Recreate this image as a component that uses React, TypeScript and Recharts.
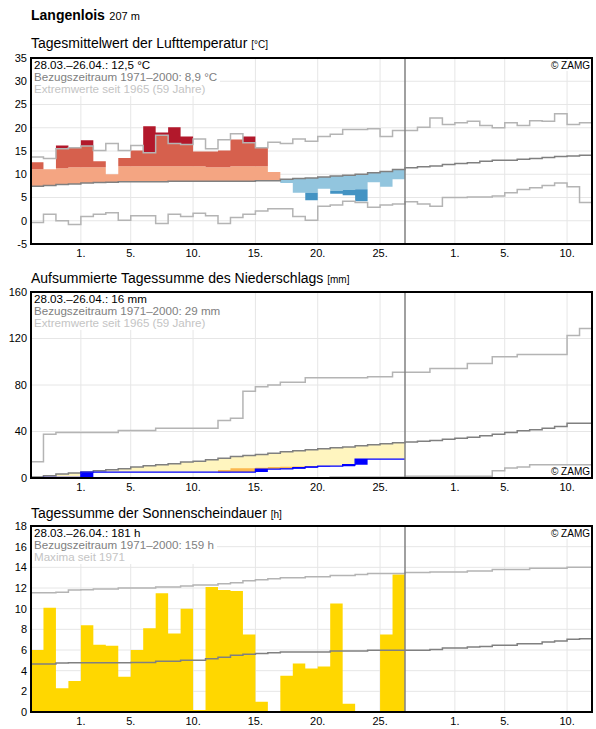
import React from 'react'
import { ComposedChart, Area, Line, XAxis, YAxis, CartesianGrid, ReferenceLine } from 'recharts'

const FONT = 'Arial, "Liberation Sans", Helvetica, sans-serif'

// x: day index, 0 = 28.03., 30 = 27.04., 45 = end of 11.05.
const tickDays = [4, 8, 13, 18, 23, 28, 34, 38, 43]
const tickLabels = ['1.', '5.', '10.', '15.', '20.', '25.', '1.', '5.', '10.']
const totalDays = 45
const obsEnd = 30

// Lufttemperatur [°C], 28.03.–26.04.
const tempValue = [12.6, 11.1, 16.2, 15.7, 17.3, 12.8, 10.0, 13.5, 15.1, 20.3, 19.0, 20.1, 18.1, 14.9, 14.9, 15.1, 17.5, 18.1, 15.7, 10.5, 8.1, 6.0, 4.4, 6.9, 5.8, 5.5, 4.2, 8.3, 7.3, 8.9]
const tempUpper = [11.1, 11.2, 11.3, 11.5, 11.5, 11.5, 11.6, 11.7, 11.7, 11.7, 11.7, 11.7, 11.7, 11.7, 11.5, 11.5, 11.7, 11.7, 11.7, 11.8, 12.0, 12.2, 12.4, 12.6, 12.8, 13.0, 13.2, 13.5, 13.8, 14.1]
const tempLower = [4.2, 4.4, 4.6, 4.7, 4.9, 5.0, 5.1, 5.2, 5.2, 5.2, 5.2, 5.3, 5.3, 5.3, 5.3, 5.3, 5.3, 5.3, 5.4, 5.4, 5.7, 5.9, 6.0, 6.2, 6.4, 6.6, 6.8, 7.1, 7.2, 7.6]
// climate, 28.03.–11.05.
const tempMean = [7.4, 7.6, 7.8, 7.9, 8.1, 8.2, 8.3, 8.4, 8.4, 8.4, 8.4, 8.5, 8.5, 8.5, 8.5, 8.5, 8.5, 8.5, 8.6, 8.6, 8.9, 9.1, 9.2, 9.4, 9.6, 9.8, 10.0, 10.3, 10.6, 11.0, 11.4, 11.6, 11.8, 12.1, 12.3, 12.5, 12.8, 13.0, 13.0, 13.2, 13.4, 13.6, 13.8, 13.9, 14.1]
const tempMax = [13.7, 13.4, 15.5, 15.7, 16.1, 15.1, 16.6, 15.1, 16.2, 14.6, 18.4, 16.6, 16.4, 17.6, 15.5, 17.4, 18.7, 16.8, 15.7, 16.9, 16.6, 17.6, 17.1, 18.1, 18.6, 19.6, 19.6, 19.8, 18.1, 19.4, 19.4, 20.1, 22.1, 20.7, 21.1, 21.4, 20.5, 20.0, 21.1, 20.5, 21.5, 21.4, 23.0, 20.7, 21.1]
const tempMin = [-0.4, 1.4, 0.0, -0.8, 0.9, 1.4, 1.7, 0.1, 1.1, 1.1, -0.6, 1.4, 0.9, 1.6, 1.1, -0.6, 0.7, 1.4, 2.1, 2.6, 2.6, 0.9, 0.1, 3.1, 3.4, 4.2, 3.9, 2.9, 3.4, 3.6, 4.1, 3.6, 3.1, 5.0, 5.0, 5.1, 5.1, 5.3, 6.0, 6.7, 7.1, 7.6, 8.1, 7.3, 3.9]
const tempTicks = [-5, 0, 5, 10, 15, 20, 25, 30, 35]

// Niederschlag, aufsummiert [mm]
const precipSum = [0, 0.6, 0.6, 0.6, 5.0, 5.0, 5.0, 5.0, 5.0, 5.0, 5.0, 5.0, 5.0, 5.0, 5.0, 5.1, 5.1, 5.1, 7.7, 7.7, 7.9, 8.8, 9.6, 10.2, 10.2, 11.4, 16.3, 16.3, 16.3, 16.3]
const precipDry = [0, 0.3, 0.5, 0.6, 1.0, 1.4, 1.8, 2.2, 2.6, 3.0, 3.4, 3.8, 4.2, 4.5, 4.9, 6.9, 8.3, 8.3, 8.9, 9.5, 9.7, 9.8, 10.3, 9.9, 10.1, 10.4, 10.7, 11.0, 11.3, 11.6]
const precipMean = [0.9, 2.0, 3.4, 4.3, 5.1, 6.3, 7.1, 8.0, 9.4, 10.6, 11.4, 12.3, 13.7, 14.5, 15.8, 17.0, 18.4, 19.4, 20.3, 21.3, 22.6, 23.4, 24.3, 25.1, 26.0, 26.6, 27.7, 28.6, 29.4, 30.3, 31.0, 31.6, 32.3, 33.4, 34.3, 35.1, 36.3, 37.7, 39.1, 40.6, 41.4, 42.9, 44.3, 47.1, 47.1]
const precipMax = [14.0, 37.7, 39.1, 39.1, 39.1, 39.1, 39.1, 40.9, 40.9, 40.9, 42.9, 42.9, 42.9, 42.9, 42.9, 49.4, 51.4, 74.6, 78.6, 80.0, 82.3, 82.3, 86.3, 86.3, 86.3, 86.3, 86.3, 87.1, 87.1, 90.9, 90.9, 90.9, 94.3, 94.3, 94.3, 98.6, 98.6, 104.3, 104.3, 106.3, 106.3, 106.3, 106.3, 122.6, 128.6]
const precipMin = [0, 0, 0, 0, 0, 0, 0, 0, 0, 0, 0, 0, 0, 0, 0, 0, 0, 0, 0, 0, 0, 0, 0, 0, 0.9, 0.9, 0.9, 0.9, 0.9, 0.9, 1.4, 1.4, 1.4, 1.4, 1.4, 1.4, 1.4, 6.3, 8.6, 9.4, 11.4, 11.4, 11.4, 11.4, 11.4]
const precipTicks = [0, 40, 80, 120, 160]

// Sonnenscheindauer [h]
const sunValue = [6.0, 10.1, 2.3, 3.0, 8.4, 6.5, 6.4, 3.4, 6.0, 8.1, 11.5, 7.6, 10.0, 0.2, 12.1, 11.8, 11.7, 7.5, 1.0, 0, 3.5, 4.7, 4.2, 4.4, 10.5, 0.8, 0, 0, 7.5, 13.3]
const sunMean = [4.65, 4.65, 4.74, 4.77, 4.77, 4.77, 4.77, 4.77, 4.8, 4.8, 4.9, 4.9, 5.0, 5.0, 5.16, 5.3, 5.5, 5.58, 5.65, 5.74, 5.8, 5.8, 5.8, 5.8, 5.9, 5.9, 5.9, 5.97, 5.97, 5.97, 5.97, 5.97, 6.06, 6.2, 6.2, 6.3, 6.35, 6.45, 6.45, 6.6, 6.6, 6.77, 6.87, 7.03, 7.1]
const sunMax = [11.55, 11.55, 11.6, 11.8, 11.84, 11.9, 11.9, 12.0, 12.0, 12.0, 12.1, 12.1, 12.2, 12.3, 12.3, 12.4, 12.5, 12.7, 12.8, 12.9, 13.0, 13.0, 13.1, 13.1, 13.2, 13.2, 13.3, 13.4, 13.4, 13.4, 13.5, 13.5, 13.55, 13.55, 13.55, 13.65, 13.65, 13.8, 13.8, 13.8, 13.9, 13.9, 13.9, 14.0, 14.0]
const sunTicks = [0, 2, 4, 6, 8, 10, 12, 14, 16, 18]

type Val = number | number[] | null
type Row = Record<string, Val>

// climate series run to the right edge, observed series stop after 26.04.
function buildRows(climate: Record<string, number[]>, observed: Record<string, Val[]>) {
  const rows: Row[] = []
  for (let d = 0; d <= totalDays; d++) {
    const row: Row = { day: d }
    Object.entries(climate).forEach(([k, arr]) => {
      row[k] = arr[Math.min(d, arr.length - 1)]
    })
    Object.entries(observed).forEach(([k, arr]) => {
      row[k] = d <= arr.length ? arr[Math.min(d, arr.length - 1)] : null
    })
    rows.push(row)
  }
  return rows
}

const tempData = buildRows(
  { mean: tempMean, max: tempMax, min: tempMin },
  {
    warm: tempValue.map((v, i) => (v > tempMean[i] ? [tempMean[i], Math.min(v, tempUpper[i])] : [tempMean[i], tempMean[i]])),
    warmer: tempValue.map((v, i) => (v > tempUpper[i] ? [tempUpper[i], Math.min(v, tempMax[i])] : [tempUpper[i], tempUpper[i]])),
    record: tempValue.map((v, i) => (v > tempMax[i] ? [tempMax[i], v] : [tempMax[i], tempMax[i]])),
    cool: tempValue.map((v, i) => (v < tempMean[i] ? [Math.max(v, tempLower[i]), tempMean[i]] : [tempMean[i], tempMean[i]])),
    cold: tempValue.map((v, i) => (v < tempLower[i] ? [v, tempLower[i]] : [tempLower[i], tempLower[i]])),
  }
)

const precipData = buildRows(
  { mean: precipMean, max: precipMax, min: precipMin },
  {
    sum: precipSum,
    deficit: precipSum.map((v, i) => (v < precipMean[i] ? [v, precipMean[i]] : [precipMean[i], precipMean[i]])),
    dry: precipSum.map((v, i) => (v < precipDry[i] ? [v, precipDry[i]] : [v, v])),
    daily: precipSum.map((v, i) => [i === 0 ? 0 : precipSum[i - 1], v]),
  }
)

const sunData = buildRows({ mean: sunMean, max: sunMax }, { sun: sunValue })

const PLOT_H = 186
const TOP_PAD = 6

function panel(plotTop: number, data: Row[], domain: number[], ticks: number[], series: React.ReactNode[]) {
  return (
    <div style={{ position: 'absolute', left: 0, top: plotTop - TOP_PAD }}>
      <ComposedChart
        width={596}
        height={TOP_PAD + PLOT_H + 22}
        data={data}
        margin={{ top: TOP_PAD, right: 4, bottom: 0, left: 0 }}
      >
        <CartesianGrid stroke="#e6e6e6" strokeWidth={1} />
        <XAxis
          dataKey="day"
          type="number"
          domain={[0, totalDays]}
          ticks={tickDays}
          interval={0}
          tickFormatter={(d: number) => tickLabels[tickDays.indexOf(d)]}
          axisLine={false}
          tickLine={false}
          tickSize={0}
          tickMargin={5}
          height={22}
          tick={{ fill: '#000', fontSize: 11, fontFamily: FONT }}
          allowDataOverflow
        />
        <YAxis
          type="number"
          domain={domain}
          ticks={ticks}
          interval={0}
          width={31}
          axisLine={false}
          tickLine={false}
          tickSize={0}
          tickMargin={4}
          tick={{ fill: '#000', fontSize: 11, fontFamily: FONT }}
          allowDataOverflow
        />
        {series}
        <ReferenceLine x={obsEnd} stroke="#808080" strokeWidth={1.5} />
      </ComposedChart>
    </div>
  )
}

function band(key: string, color: string) {
  return (
    <Area
      key={key}
      dataKey={key}
      type="stepAfter"
      fill={color}
      fillOpacity={1}
      stroke="none"
      dot={false}
      activeDot={false}
      isAnimationActive={false}
    />
  )
}

function stepLine(key: string, color: string, width = 1.5) {
  return (
    <Line
      key={key}
      dataKey={key}
      type="stepAfter"
      stroke={color}
      strokeWidth={width}
      dot={false}
      activeDot={false}
      isAnimationActive={false}
    />
  )
}

function Frame({ top }: { top: number }) {
  return (
    <div
      style={{
        position: 'absolute',
        left: 30,
        top: top - 1,
        width: 563,
        height: PLOT_H + 2,
        border: '2px solid #000',
        boxSizing: 'border-box',
      }}
    />
  )
}

function InfoBox({ top, lines }: { top: number; lines: string[] }) {
  const colors = ['#000', '#808080', '#c4c4c4']
  return (
    <div
      style={{
        position: 'absolute',
        left: 32,
        top: top + 1,
        background: '#fff',
        padding: '0 3px 1px 2px',
        fontSize: 11.6,
        lineHeight: '12px',
      }}
    >
      {lines.map((l, i) => (
        <div key={i} style={{ color: colors[i], whiteSpace: 'nowrap' }}>
          {l}
        </div>
      ))}
    </div>
  )
}

function Zamg({ top }: { top: number }) {
  return (
    <div
      style={{
        position: 'absolute',
        left: 546,
        top,
        width: 44,
        textAlign: 'right',
        background: '#fff',
        fontSize: 10,
        lineHeight: '11px',
        color: '#000',
      }}
    >
      © ZAMG
    </div>
  )
}

function Title({ top, text, unit }: { top: number; text: string; unit: string }) {
  return (
    <div style={{ position: 'absolute', left: 31, top, fontSize: 14, lineHeight: '16px', whiteSpace: 'nowrap' }}>
      {text} <span style={{ fontSize: 10 }}>[{unit}]</span>
    </div>
  )
}

export default function App() {
  const t1 = 58
  const t2 = 292
  const t3 = 526
  return (
    <div style={{ position: 'absolute', left: 0, top: 0, width: 596, height: 729, background: '#fff', fontFamily: FONT, color: '#000' }}>
      <div style={{ position: 'absolute', left: 31, top: 7, lineHeight: '16px', whiteSpace: 'nowrap' }}>
        <span style={{ fontSize: 14, fontWeight: 'bold' }}>Langenlois</span> <span style={{ fontSize: 11 }}>207 m</span>
      </div>

      <Title top={35} text="Tagesmittelwert der Lufttemperatur" unit="°C" />
      {panel(t1, tempData, [-5, 35], tempTicks, [
        band('warm', '#f4a582'),
        band('warmer', '#d6604d'),
        band('record', '#b2182b'),
        band('cool', '#92c5de'),
        band('cold', '#4393c3'),
        stepLine('max', '#b4b4b4'),
        stepLine('min', '#b4b4b4'),
        stepLine('mean', '#808080'),
      ])}
      <InfoBox top={t1} lines={['28.03.–26.04.: 12,5 °C', 'Bezugszeitraum 1971–2000: 8,9 °C', 'Extremwerte seit 1965 (59 Jahre)']} />
      <Zamg top={t1 + 2} />
      <Frame top={t1} />

      <Title top={270} text="Aufsummierte Tagessumme des Niederschlags" unit="mm" />
      {panel(t2, precipData, [0, 160], precipTicks, [
        band('deficit', '#fff5bf'),
        band('dry', '#fbb84f'),
        band('daily', '#0000ff'),
        stepLine('max', '#b4b4b4'),
        stepLine('min', '#b4b4b4'),
        stepLine('mean', '#808080'),
        stepLine('sum', '#0000ff', 1.3),
      ])}
      <InfoBox top={t2} lines={['28.03.–26.04.: 16 mm', 'Bezugszeitraum 1971–2000: 29 mm', 'Extremwerte seit 1965 (59 Jahre)']} />
      <Zamg top={t2 + PLOT_H - 12} />
      <Frame top={t2} />

      <Title top={505} text="Tagessumme der Sonnenscheindauer" unit="h" />
      {panel(t3, sunData, [0, 18], sunTicks, [
        band('sun', '#ffd700'),
        stepLine('max', '#b4b4b4'),
        stepLine('mean', '#808080'),
      ])}
      <InfoBox top={t3} lines={['28.03.–26.04.: 181 h', 'Bezugszeitraum 1971–2000: 159 h', 'Maxima seit 1971']} />
      <Zamg top={t3 + 2} />
      <Frame top={t3} />
    </div>
  )
}
